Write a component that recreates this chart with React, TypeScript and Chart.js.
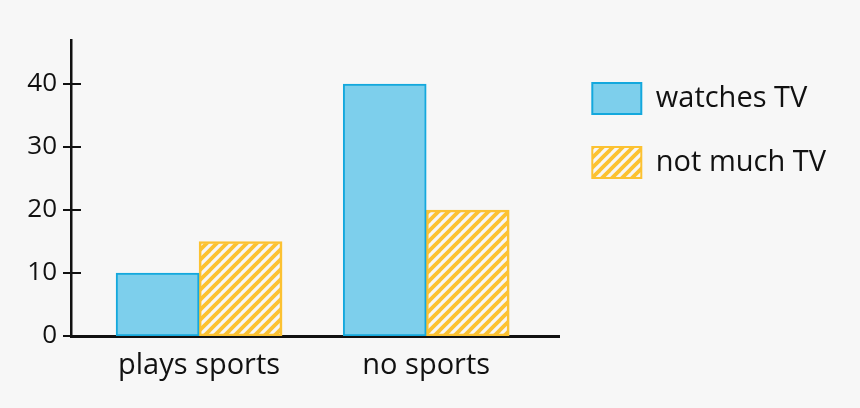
import React, { useEffect, useRef } from 'react';
import { Chart, registerables } from 'chart.js';

Chart.register(...registerables);

const categories = ['plays sports', 'no sports'];
const seriesLabels = ['watches TV', 'not much TV'];
const watchesTV = [10, 40];
const notMuchTV = [15, 20];
const yTickValues = [0, 10, 20, 30, 40];
const yMax = 47;

const FONT = '"Open Sans", "Noto Sans", sans-serif';
const TEXT = '#111111';
const BG = '#f7f7f7';
const BLUE_FILL = '#7dcfec';
const BLUE_LINE = '#14a8dd';
const ORANGE = '#fcc232';

function makeHatch(): CanvasPattern | string {
  const c = document.createElement('canvas');
  c.width = 10;
  c.height = 10;
  const g = c.getContext('2d');
  if (!g) return ORANGE;
  g.strokeStyle = ORANGE;
  g.lineWidth = 3.8;
  for (const x0 of [-10, 0, 10]) {
    g.beginPath();
    g.moveTo(x0 - 2, 12);
    g.lineTo(x0 + 12, -2);
    g.stroke();
  }
  const p = g.createPattern(c, 'repeat');
  return p || ORANGE;
}

const crossTicks = {
  id: 'crossTicks',
  afterDraw(chart: any) {
    const y = chart.scales.y;
    const ctx = chart.ctx;
    ctx.save();
    ctx.strokeStyle = '#111';
    ctx.lineWidth = 2;
    for (const t of y.ticks) {
      const py = Math.round(y.getPixelForValue(t.value));
      ctx.beginPath();
      ctx.moveTo(y.right - 8, py);
      ctx.lineTo(y.right + 10, py);
      ctx.stroke();
    }
    ctx.restore();
  },
};

export default function App() {
  const ref = useRef<HTMLCanvasElement>(null);

  useEffect(() => {
    document.body.style.margin = '0';
    document.body.style.background = BG;
    const canvas = ref.current;
    if (!canvas) return;
    const hatch = makeHatch();
    const chart = new Chart(canvas, {
      type: 'bar',
      data: {
        datasets: [
          {
            label: seriesLabels[0],
            data: watchesTV.map((v, i) => ({ x: i + 1, y: v })),
            backgroundColor: BLUE_FILL,
            borderColor: BLUE_LINE,
            borderWidth: 2,
            borderSkipped: false,
          },
          {
            label: seriesLabels[1],
            data: notMuchTV.map((v, i) => ({ x: i + 1, y: v })),
            backgroundColor: hatch as any,
            borderColor: ORANGE,
            borderWidth: 2,
            borderSkipped: false,
          },
        ],
      },
      options: {
        responsive: false,
        animation: false,
        barThickness: 83,
        layout: { padding: { top: 40, left: 0, right: 24, bottom: 0 } },
        scales: {
          x: {
            type: 'linear',
            offset: false,
            min: 1 - 128 / 227,
            max: 2 + 133 / 227,
            grid: { display: false, drawTicks: false, offset: false },
            border: { display: true, color: '#111', width: 3 },
            ticks: {
              padding: 12,
              color: TEXT,
              font: { family: FONT, size: 29 },
              callback: (v: any) => categories[Number(v) - 1] ?? '',
            },
            afterBuildTicks: (s: any) => {
              s.ticks = categories.map((_, i) => ({ value: i + 1 }));
            },
            afterFit: (s: any) => {
              s.height = 72;
            },
          },
          y: {
            type: 'linear',
            min: 0,
            max: yMax,
            grid: { display: false, drawTicks: false },
            border: { display: true, color: '#111', width: 2.5 },
            ticks: {
              padding: 14,
              color: TEXT,
              font: { family: FONT, size: 26 },
            },
            afterBuildTicks: (s: any) => {
              s.ticks = yTickValues.map((v) => ({ value: v }));
            },
            afterFit: (s: any) => {
              s.width = 71;
            },
          },
        },
        plugins: {
          legend: {
            position: 'right',
            align: 'start',
            maxWidth: 400,
            title: { display: true, text: '', padding: 0, font: { size: 10, lineHeight: 1 } },
            labels: {
              boxWidth: 49,
              boxHeight: 31,
              padding: 33,
              color: TEXT,
              font: { family: FONT, size: 29 },
            },
          },
          tooltip: { enabled: false },
        },
      } as any,
      plugins: [crossTicks],
    });
    return () => chart.destroy();
  }, []);

  return (
    <div style={{ width: 860, height: 408, background: BG }}>
      <canvas ref={ref} width={860} height={408} style={{ display: 'block' }} />
    </div>
  );
}
